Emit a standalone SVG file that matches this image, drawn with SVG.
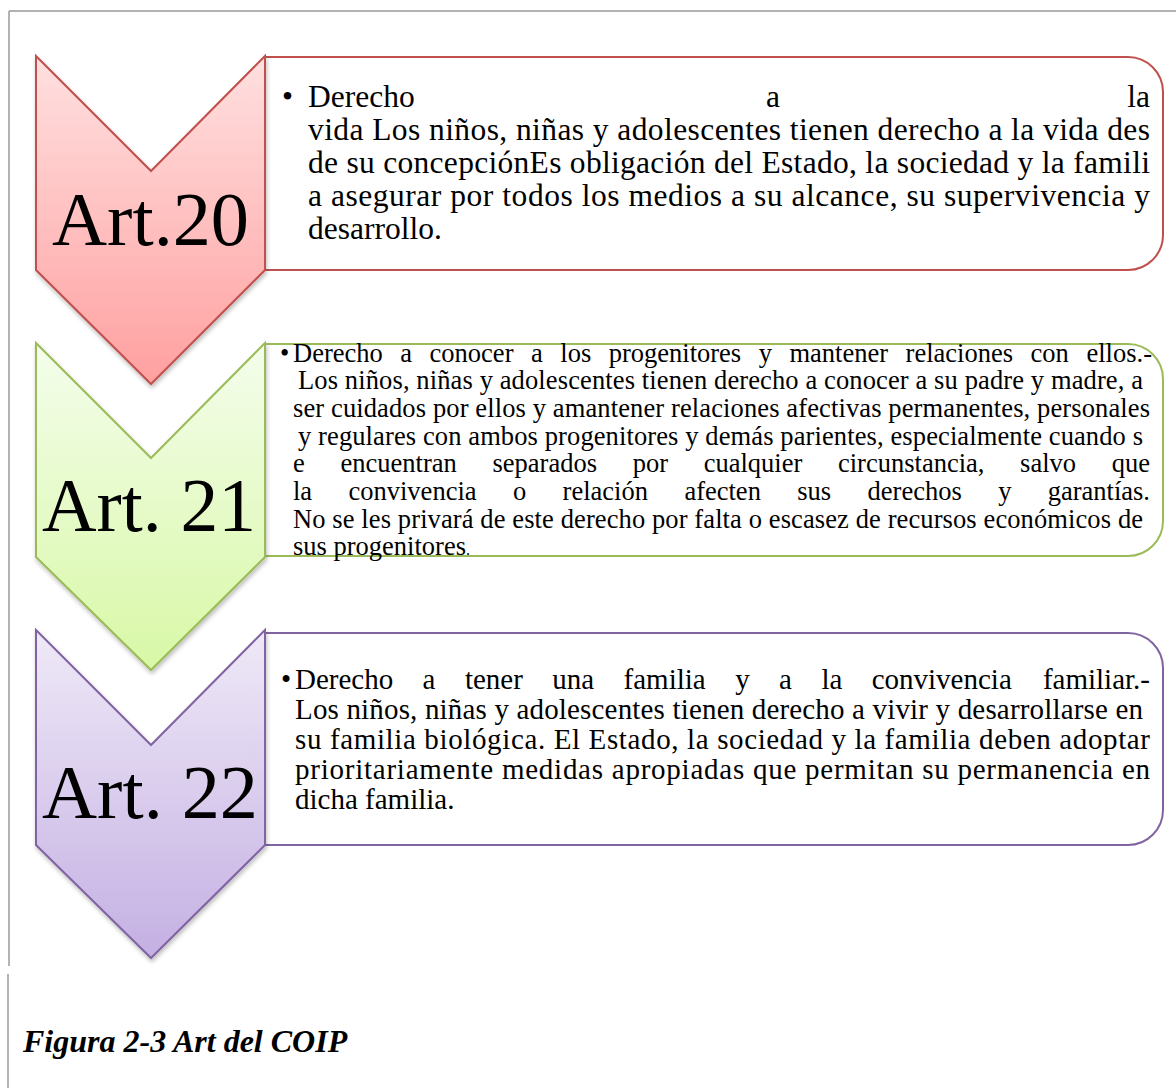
<svg xmlns="http://www.w3.org/2000/svg" width="1176" height="1088" viewBox="0 0 1176 1088">
<style>
.t{font-family:"Liberation Serif","Times New Roman",serif;fill:#000}
.b1{font-size:31.5px}
.b2{font-size:26.5px}
.b3{font-size:29px}
.art{font-size:76px}
.cap{font-size:32px;font-weight:bold;font-style:italic}
.box{fill:#fff;stroke-width:2}
.chev{stroke-width:2}
</style>
<defs>
<linearGradient id="gr" x1="0" y1="0" x2="0" y2="1"><stop offset="0" stop-color="#FFE0E0"/><stop offset="1" stop-color="#FFA0A0"/></linearGradient>
<linearGradient id="gg" x1="0" y1="0" x2="0" y2="1"><stop offset="0" stop-color="#F4FDEC"/><stop offset="1" stop-color="#D8F8A6"/></linearGradient>
<linearGradient id="gp" x1="0" y1="0" x2="0" y2="1"><stop offset="0" stop-color="#EFE9F7"/><stop offset="1" stop-color="#C4B0E3"/></linearGradient>
<filter id="sh" x="-10%" y="-10%" width="130%" height="130%"><feDropShadow dx="1" dy="3" stdDeviation="2" flood-color="#000" flood-opacity="0.25"/></filter>
</defs>
<rect width="1176" height="1088" fill="#fff"/>
<g id="frame" stroke="#9a9a9a" stroke-width="1.5" fill="none">
<line x1="9" y1="11" x2="1176" y2="11"/>
<line x1="9" y1="11" x2="9" y2="966"/>
<line x1="8" y1="974" x2="8" y2="1088"/>
</g>
<g id="connectors"></g>
<g id="node-art20">
<path class="box" d="M265 57 H1128 A35 35 0 0 1 1163 92 V235 A35 35 0 0 1 1128 270 H265 Z" stroke="#C0504D"/>
<polygon class="chev" points="36,56 151,171 265,56 265,270 151,384 36,270" fill="url(#gr)" stroke="#C0504D" filter="url(#sh)"/>
<text class="t art" x="52" y="245" textLength="197" lengthAdjust="spacingAndGlyphs">Art.20</text>
<g class="t b1">
<text y="107"><tspan x="282">•</tspan><tspan x="308">Derecho</tspan><tspan x="766">a</tspan><tspan x="1150" text-anchor="end">la</tspan></text>
<text x="308" y="140" textLength="842" lengthAdjust="spacing">vida  Los niños, niñas y adolescentes tienen derecho a la vida des</text>
<text x="308" y="173" textLength="842" lengthAdjust="spacing">de su concepciónEs obligación del Estado, la sociedad y la famili</text>
<text x="308" y="206" textLength="842" lengthAdjust="spacing">a asegurar por todos los medios a su alcance, su supervivencia y</text>
<text x="308" y="239">desarrollo.</text>
</g>
</g>
<g id="node-art21">
<path class="box" d="M265 344 H1128 A35 35 0 0 1 1163 379 V521 A35 35 0 0 1 1128 556 H265 Z" stroke="#9BBB59"/>
<polygon class="chev" points="36,343 151,458 265,343 265,557 151,670 36,557" fill="url(#gg)" stroke="#9BBB59" filter="url(#sh)"/>
<text class="t art" x="42" y="531" textLength="214" lengthAdjust="spacingAndGlyphs">Art. 21</text>
<g class="t b2">
<text y="362"><tspan x="280">•</tspan><tspan x="293">Derecho</tspan><tspan x="400.3">a</tspan><tspan x="429.6">conocer</tspan><tspan x="531">a</tspan><tspan x="560.3">los</tspan><tspan x="608.7">progenitores</tspan><tspan x="758.7">y</tspan><tspan x="789.5">mantener</tspan><tspan x="905.6">relaciones</tspan><tspan x="1030.5">con</tspan><tspan x="1152" text-anchor="end">ellos.-</tspan></text>
<text x="298" y="389" textLength="845" lengthAdjust="spacing">Los niños, niñas y adolescentes tienen derecho a conocer a su padre y madre, a</text>
<text x="293" y="417" textLength="857" lengthAdjust="spacing">ser cuidados por ellos y amantener relaciones afectivas permanentes, personales</text>
<text x="298" y="445" textLength="845" lengthAdjust="spacing">y regulares con ambos progenitores y demás parientes, especialmente cuando s</text>
<text y="472"><tspan x="293">e</tspan><tspan x="340.5">encuentran</tspan><tspan x="492.5">separados</tspan><tspan x="632.7">por</tspan><tspan x="703.7">cualquier</tspan><tspan x="838">circunstancia,</tspan><tspan x="1020.1">salvo</tspan><tspan x="1150" text-anchor="end">que</tspan></text>
<text y="500"><tspan x="293">la</tspan><tspan x="348.5">convivencia</tspan><tspan x="512.9">o</tspan><tspan x="562.6">relación</tspan><tspan x="684.4">afecten</tspan><tspan x="797.3">sus</tspan><tspan x="867.6">derechos</tspan><tspan x="998.2">y</tspan><tspan x="1150" text-anchor="end">garantías.</tspan></text>
<text x="293" y="528" textLength="850" lengthAdjust="spacing">No se les privará de este derecho por falta o escasez de recursos económicos de</text>
<text x="293" y="555">sus progenitores<tspan font-size="16">.</tspan></text>
</g>
</g>
<g id="node-art22">
<path class="box" d="M265 633 H1128 A35 35 0 0 1 1163 668 V810 A35 35 0 0 1 1128 845 H265 Z" stroke="#8064A2"/>
<polygon class="chev" points="36,630 151,745 265,630 265,845 151,958 36,845" fill="url(#gp)" stroke="#8064A2" filter="url(#sh)"/>
<text class="t art" x="42" y="818" textLength="216" lengthAdjust="spacingAndGlyphs">Art. 22</text>
<g class="t b3">
<text y="689"><tspan x="281">•</tspan><tspan x="295">Derecho</tspan><tspan x="422.6">a</tspan><tspan x="464.9">tener</tspan><tspan x="552.3">una</tspan><tspan x="623.6">familia</tspan><tspan x="735.2">y</tspan><tspan x="779.1">a</tspan><tspan x="821.4">la</tspan><tspan x="871.7">convivencia</tspan><tspan x="1150" text-anchor="end">familiar.-</tspan></text>
<text x="295" y="719" textLength="848" lengthAdjust="spacing">Los niños, niñas y adolescentes tienen derecho a vivir y desarrollarse en</text>
<text x="295" y="749" textLength="855" lengthAdjust="spacing">su familia biológica. El Estado, la sociedad y la familia deben adoptar</text>
<text x="295" y="779" textLength="855" lengthAdjust="spacing">prioritariamente medidas apropiadas que permitan su permanencia en</text>
<text x="295" y="809">dicha familia.</text>
</g>
</g>
<g id="caption">
<text class="t cap" x="23" y="1052">Figura 2-3 Art del COIP</text>
</g>
</svg>
